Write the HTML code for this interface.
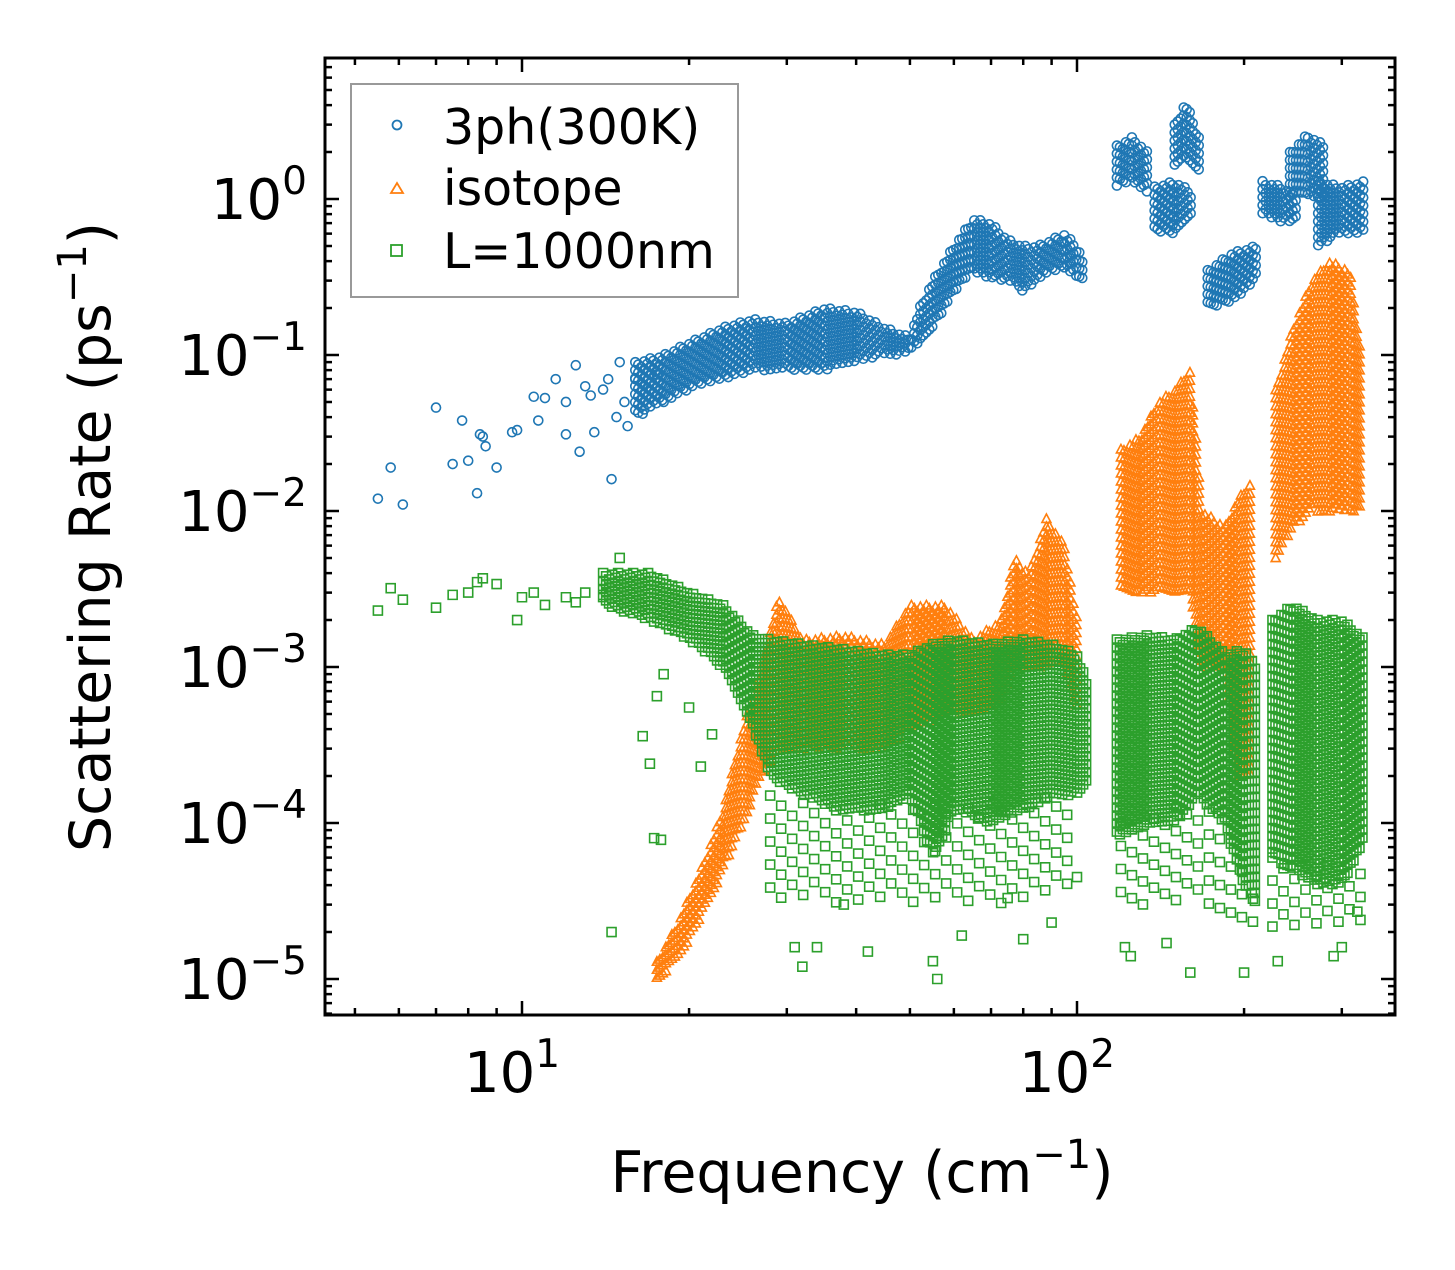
<!DOCTYPE html>
<html><head><meta charset="utf-8"><style>
html,body{margin:0;padding:0;background:#fff;}
svg text{font-family:"DejaVu Sans","Liberation Sans",sans-serif;fill:#000;}
</style></head><body>
<svg id="chart" width="1455" height="1265" viewBox="0 0 1455 1265" xmlns="http://www.w3.org/2000/svg">
<g id="marks"></g>
<g id="axes"></g>
<text x="862" y="1192" font-size="57" text-anchor="middle">Frequency (cm<tspan dy="-24" font-size="40">−1</tspan><tspan dy="24">)</tspan></text>
<text transform="translate(110,537) rotate(-90)" font-size="57" text-anchor="middle">Scattering Rate (ps<tspan dy="-24" font-size="40">−1</tspan><tspan dy="24">)</tspan></text>
<g>
<rect x="351" y="84" width="387" height="213" fill="#fff" stroke="#999" stroke-width="2"/>
<g><circle cx="397" cy="125" r="4.5" fill="none" stroke="#1f77b4" stroke-width="1.8"/><text x="443" y="144" font-size="49">3ph(300K)</text></g>
<g><path d="M391,193 L397,183 L403,193 Z" fill="none" stroke="#ff7f0e" stroke-width="1.8"/><text x="443" y="205" font-size="49">isotope</text></g>
<g><rect x="391" y="245" width="11" height="11" fill="none" stroke="#2ca02c" stroke-width="1.8"/><text x="443" y="268" font-size="49">L=1000nm</text></g>
</g>
</svg>
<script>
// ---- data ----
const xTickValues=[10,100];
const xTickLabels=["1","2"];
const yTickValues=[1,0.1,0.01,0.001,0.0001,0.00001];
const yTickLabels=["0","−1","−2","−3","−4","−5"];
const blueSparse=[[5.5,0.012],[5.8,0.019],[6.1,0.011],[7,0.046],[7.5,0.02],[7.8,0.038],[8,0.021],[8.3,0.013],[8.4,0.031],[8.5,0.03],[8.6,0.026],[9,0.019],[9.6,0.032],[9.8,0.033],[10.5,0.054],[10.7,0.038],[11,0.053],[11.5,0.07],[12,0.05],[12,0.031],[12.5,0.086],[12.7,0.024],[13,0.063],[13.3,0.055],[13.5,0.032],[14,0.06],[14.3,0.07],[14.5,0.016],[14.8,0.04],[15,0.09],[15.3,0.05],[15.5,0.035],[16,0.07],[16.5,0.042],[17,0.06],[17.5,0.075],[18,0.05]];
const blueBands=[
[[16,0.04,0.09],[18,0.05,0.1],[20,0.06,0.12],[23,0.07,0.15],[26,0.08,0.17],[30,0.08,0.16],[35,0.08,0.2],[40,0.09,0.19],[45,0.1,0.15],[50,0.1,0.13],[52,0.12,0.2],[55,0.15,0.3],[60,0.25,0.5],[65,0.35,0.75],[70,0.3,0.7],[75,0.3,0.55],[80,0.25,0.5],[85,0.3,0.5],[90,0.35,0.55],[95,0.35,0.6],[100,0.3,0.5],[103,0.3,0.4]],
[[118,1.2,2.2],[126,1.3,2.5],[134,1.1,2.0]],
[[138,0.6,1.2],[150,0.6,1.3],[162,0.8,1.1]],
[[150,1.5,3.0],[157,1.8,4.2],[166,1.5,2.5]],
[[172,0.2,0.35],[190,0.22,0.45],[210,0.3,0.5]],
[[216,0.8,1.3],[235,0.7,1.2],[250,0.75,1.0]],
[[242,1.0,2.0],[260,1.0,2.6],[280,1.0,2.2]],
[[272,0.5,1.3],[300,0.6,1.2],[330,0.6,1.3]]];
const orangeBands=[
[[17.5,1.0e-5,1.3e-5],[19,1.3e-5,2.2e-5],[21,2.5e-5,5e-5],[23,5e-5,1.2e-4],[25,1e-4,4e-4],[27,2e-4,1e-3]],
[[27,2e-4,1e-3],[29,3e-4,2.8e-3],[32,3e-4,1.5e-3],[38,3e-4,1.6e-3],[45,3e-4,1.4e-3],[50,4e-4,2.5e-3],[58,5e-4,2.5e-3],[65,5e-4,1.5e-3],[73,6e-4,2e-3],[77,1e-3,5e-3],[82,1e-3,4e-3],[88,1e-3,9e-3],[95,1e-3,6e-3],[100,5e-4,2e-3]],
[[120,3e-3,2.5e-2],[130,3e-3,3e-2],[140,3e-3,5e-2],[150,3e-3,6e-2],[160,3e-3,8e-2],[168,1e-3,1e-2],[185,1e-3,8e-3],[195,2e-4,1.2e-2],[205,2e-4,1.5e-2]],
[[228,5e-3,6e-2],[245,8e-3,0.15],[265,1e-2,0.3],[285,1e-2,0.4],[310,1e-2,0.35],[325,1e-2,0.1]]];
const greenSparse=[[5.5,2.3e-3],[5.8,3.2e-3],[6.1,2.7e-3],[7,2.4e-3],[7.5,2.9e-3],[8,3e-3],[8.3,3.5e-3],[8.5,3.7e-3],[9,3.4e-3],[9.8,2e-3],[10,2.8e-3],[10.5,3e-3],[11,2.5e-3],[12,2.8e-3],[12.5,2.6e-3],[13,3e-3],[14,2.9e-3],[15,5e-3],[17.5,6.5e-4],[16.5,3.6e-4],[17,2.4e-4],[17.3,8e-5],[17.8,7.8e-5],[14.5,2e-5],[20,5.5e-4],[21,2.3e-4],[22,3.7e-4],[18,9e-4],[31,1.6e-5],[32,1.2e-5],[34,1.6e-5],[38,3e-5],[42,1.5e-5],[55,1.3e-5],[56,1e-5],[62,1.9e-5],[75,3.3e-5],[80,1.8e-5],[90,2.3e-5],[100,4.5e-5],[122,1.6e-5],[125,1.4e-5],[145,1.7e-5],[160,1.1e-5],[200,1.1e-5],[230,1.3e-5],[290,1.4e-5],[300,1.6e-5],[320,2.7e-5]];
const greenBands=[
[[14,2.5e-3,4e-3],[17,2e-3,4e-3],[20,1.5e-3,3e-3],[23,1e-3,2.5e-3],[26,4e-4,1.6e-3],[28,2e-4,1.5e-3],[32,1.5e-4,1.4e-3],[38,1.2e-4,1.3e-3],[45,1.2e-4,1.2e-3],[50,1.5e-4,1.2e-3],[55,6e-5,1.4e-3],[60,1.2e-4,1.5e-3],[70,1e-4,1.4e-3],[80,1.2e-4,1.5e-3],[90,1.5e-4,1.4e-3],[100,1.5e-4,1.2e-3],[104,1.8e-4,8e-4]],
[[118,8e-5,1.5e-3],[135,1e-4,1.6e-3],[150,1e-4,1.5e-3],[165,1.5e-4,1.8e-3],[185,1e-4,1.2e-3],[200,4e-5,1.3e-3],[210,3e-5,1e-3]],
[[225,6e-5,2e-3],[245,5e-5,2.5e-3],[270,4e-5,2e-3],[300,4e-5,2e-3],[330,8e-5,1.5e-3]]];
const greenSparseBands=[
[[28,3e-5,1.5e-4],[45,3e-5,1.3e-4],[60,3e-5,1.3e-4],[80,3e-5,1.4e-4],[100,4e-5,1.5e-4]],
[[120,3e-5,1e-4],[170,3e-5,1.4e-4],[210,2e-5,4e-5]],
[[225,2e-5,6e-5],[330,2e-5,5e-5]]];

// ---- axes ----
const L=325,R=1395,T=58,B=1015;
const xLogMin=Math.log10(10)-(522-L)/555, xLogMax=xLogMin+(R-L)/555;
const yLogTop=0+(199-T)/156, yLogBot=yLogTop-(B-T)/156;
function xs(v){return L+(Math.log10(v)-xLogMin)/(xLogMax-xLogMin)*(R-L);}
function ys(v){return T+(yLogTop-Math.log10(v))/(yLogTop-yLogBot)*(B-T);}
const NS="http://www.w3.org/2000/svg";
const marks=document.getElementById('marks'),axes=document.getElementById('axes');
function mk(tag,attrs,parent){const e=document.createElementNS(NS,tag);for(const k in attrs)e.setAttribute(k,attrs[k]);parent.appendChild(e);return e;}
function grp(name,color){const g=mk('g',{fill:'none',stroke:color,'stroke-width':'1.6'},marks);


return g;}
const gB=grp('series-3ph','#1f77b4'),gO=grp('series-isotope','#ff7f0e'),gG=grp('series-boundary','#2ca02c');
let dB='',dO='',dG='';
function sym(kind,px,py){
 if(kind==='c'){return 'M'+(px+4.5)+','+py+'a4.5,4.5 0 1,0 -9,0a4.5,4.5 0 1,0 9,0';}
 if(kind==='t'){return 'M'+(px-4.5)+','+(py+4)+'L'+px+','+(py-4.5)+'L'+(px+4.5)+','+(py+4)+'Z';}
 return 'M'+(px-4.5)+','+(py-4.5)+'h9v9h-9Z';
}
function band(pts,kind,step,vstep){
 let d='';
 const x0=xs(pts[0][0]),x1=xs(pts[pts.length-1][0]);
 let row=0;
 for(let px=x0;px<=x1;px+=step){
  let i=0;while(i<pts.length-2&&xs(pts[i+1][0])<px)i++;
  const a=pts[i],b=pts[i+1];const xa=xs(a[0]),xb=xs(b[0]);
  const t=xb>xa?Math.min(1,Math.max(0,(px-xa)/(xb-xa))):0;
  const lo=ys(a[1])+(ys(b[1])-ys(a[1]))*t, hi=ys(a[2])+(ys(b[2])-ys(a[2]))*t;
  const off=((row*7)%5)*vstep/5;row++;
  for(let py=hi+off;py<=lo;py+=vstep){d+=sym(kind,px,py);}
 }
 return d;
}
blueSparse.forEach(p=>dB+=sym('c',xs(p[0]),ys(p[1])));
blueBands.forEach(b=>dB+=band(b,'c',3,8));
orangeBands.forEach(b=>dO+=band(b,'t',3,8));
greenSparse.forEach(p=>dG+=sym('s',xs(p[0]),ys(p[1])));
greenBands.forEach(b=>dG+=band(b,'s',3,8));
greenSparseBands.forEach(b=>dG+=band(b,'s',11,23));
const pB=mk('path',{d:dB},gB);
const pO=mk('path',{d:dO},gO);
const pG=mk('path',{d:dG},gG);

const fr=mk('rect',{x:L,y:T,width:R-L,height:B-T,fill:'none',stroke:'#000','stroke-width':'3'},axes);

let td='';
for(let dec=0;dec<=3;dec++){for(let m=1;m<10;m++){const v=m*Math.pow(10,dec);const px=xs(v);if(px<L||px>R)continue;const len=m===1?14:7;td+='M'+px+','+B+'v'+(-len)+'M'+px+','+T+'v'+len;}}
for(let dec=-6;dec<=1;dec++){for(let m=1;m<10;m++){const v=m*Math.pow(10,dec);const py=ys(v);if(py<T||py>B)continue;const len=m===1?14:7;td+='M'+L+','+py+'h'+len+'M'+R+','+py+'h'+(-len);}}
const tk=mk('path',{d:td,stroke:'#000','stroke-width':'2.5',fill:'none'},axes);

xTickValues.forEach((v,i)=>{const t=mk('text',{x:xs(v)-10,y:1092,'font-size':'56','text-anchor':'middle'},axes);

t.innerHTML='10<tspan dy="-25" font-size="39">'+xTickLabels[i]+'</tspan>';});
yTickValues.forEach((v,i)=>{const t=mk('text',{x:307,y:ys(v)+20,'font-size':'56','text-anchor':'end'},axes);

t.innerHTML='10<tspan dy="-25" font-size="39">'+yTickLabels[i]+'</tspan>';});
</script>
</body></html>
